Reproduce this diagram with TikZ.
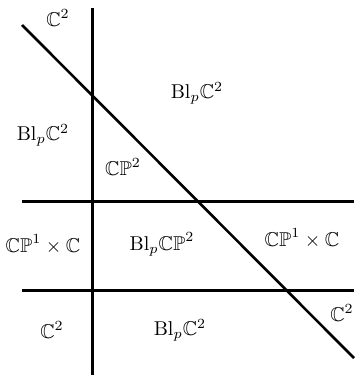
\documentclass[tikz,border=0pt]{standalone}
\usepackage{amssymb}
\begin{document}
\begin{tikzpicture}[x=0.5pt,y=-0.5pt,
  wall/.style={line width=1.5pt},
  slant/.style={line width=1.3pt},
  lab/.style={inner sep=0pt,font=\normalsize}]
\useasboundingbox (0,0) rectangle (354,375);
\coordinate (vtop) at (92,8);
\coordinate (vbot) at (92,375);
\coordinate (h1l) at (22,201);
\coordinate (h1r) at (354,201);
\coordinate (h2l) at (22,290);
\coordinate (h2r) at (354,290);
\coordinate (dtop) at (22,25);
\coordinate (dbot) at (354,358);
\draw[wall] (vtop) -- (vbot);
\draw[wall] (h1l) -- (h1r);
\draw[wall] (h2l) -- (h2r);
\draw[slant] (dtop) -- (dbot);
\node[lab] (c2a) at (58,18) {$\mathbb{C}^2$};
\node[lab] (blc2a) at (43,135) {$\mathrm{Bl}_p\mathbb{C}^2$};
\node[lab] (cp2) at (123,167) {$\mathbb{CP}^2$};
\node[lab] (blc2b) at (197,93) {$\mathrm{Bl}_p\mathbb{C}^2$};
\node[lab] (cp1ca) at (43,244) {$\mathbb{CP}^1\times\mathbb{C}$};
\node[lab] (blcp2) at (162,244) {$\mathrm{Bl}_p\mathbb{CP}^2$};
\node[lab] (cp1cb) at (302,238) {$\mathbb{CP}^1\times\mathbb{C}$};
\node[lab] (c2b) at (52,330) {$\mathbb{C}^2$};
\node[lab] (blc2c) at (180,330) {$\mathrm{Bl}_p\mathbb{C}^2$};
\node[lab] (c2c) at (342,313) {$\mathbb{C}^2$};
\end{tikzpicture}
\end{document}
